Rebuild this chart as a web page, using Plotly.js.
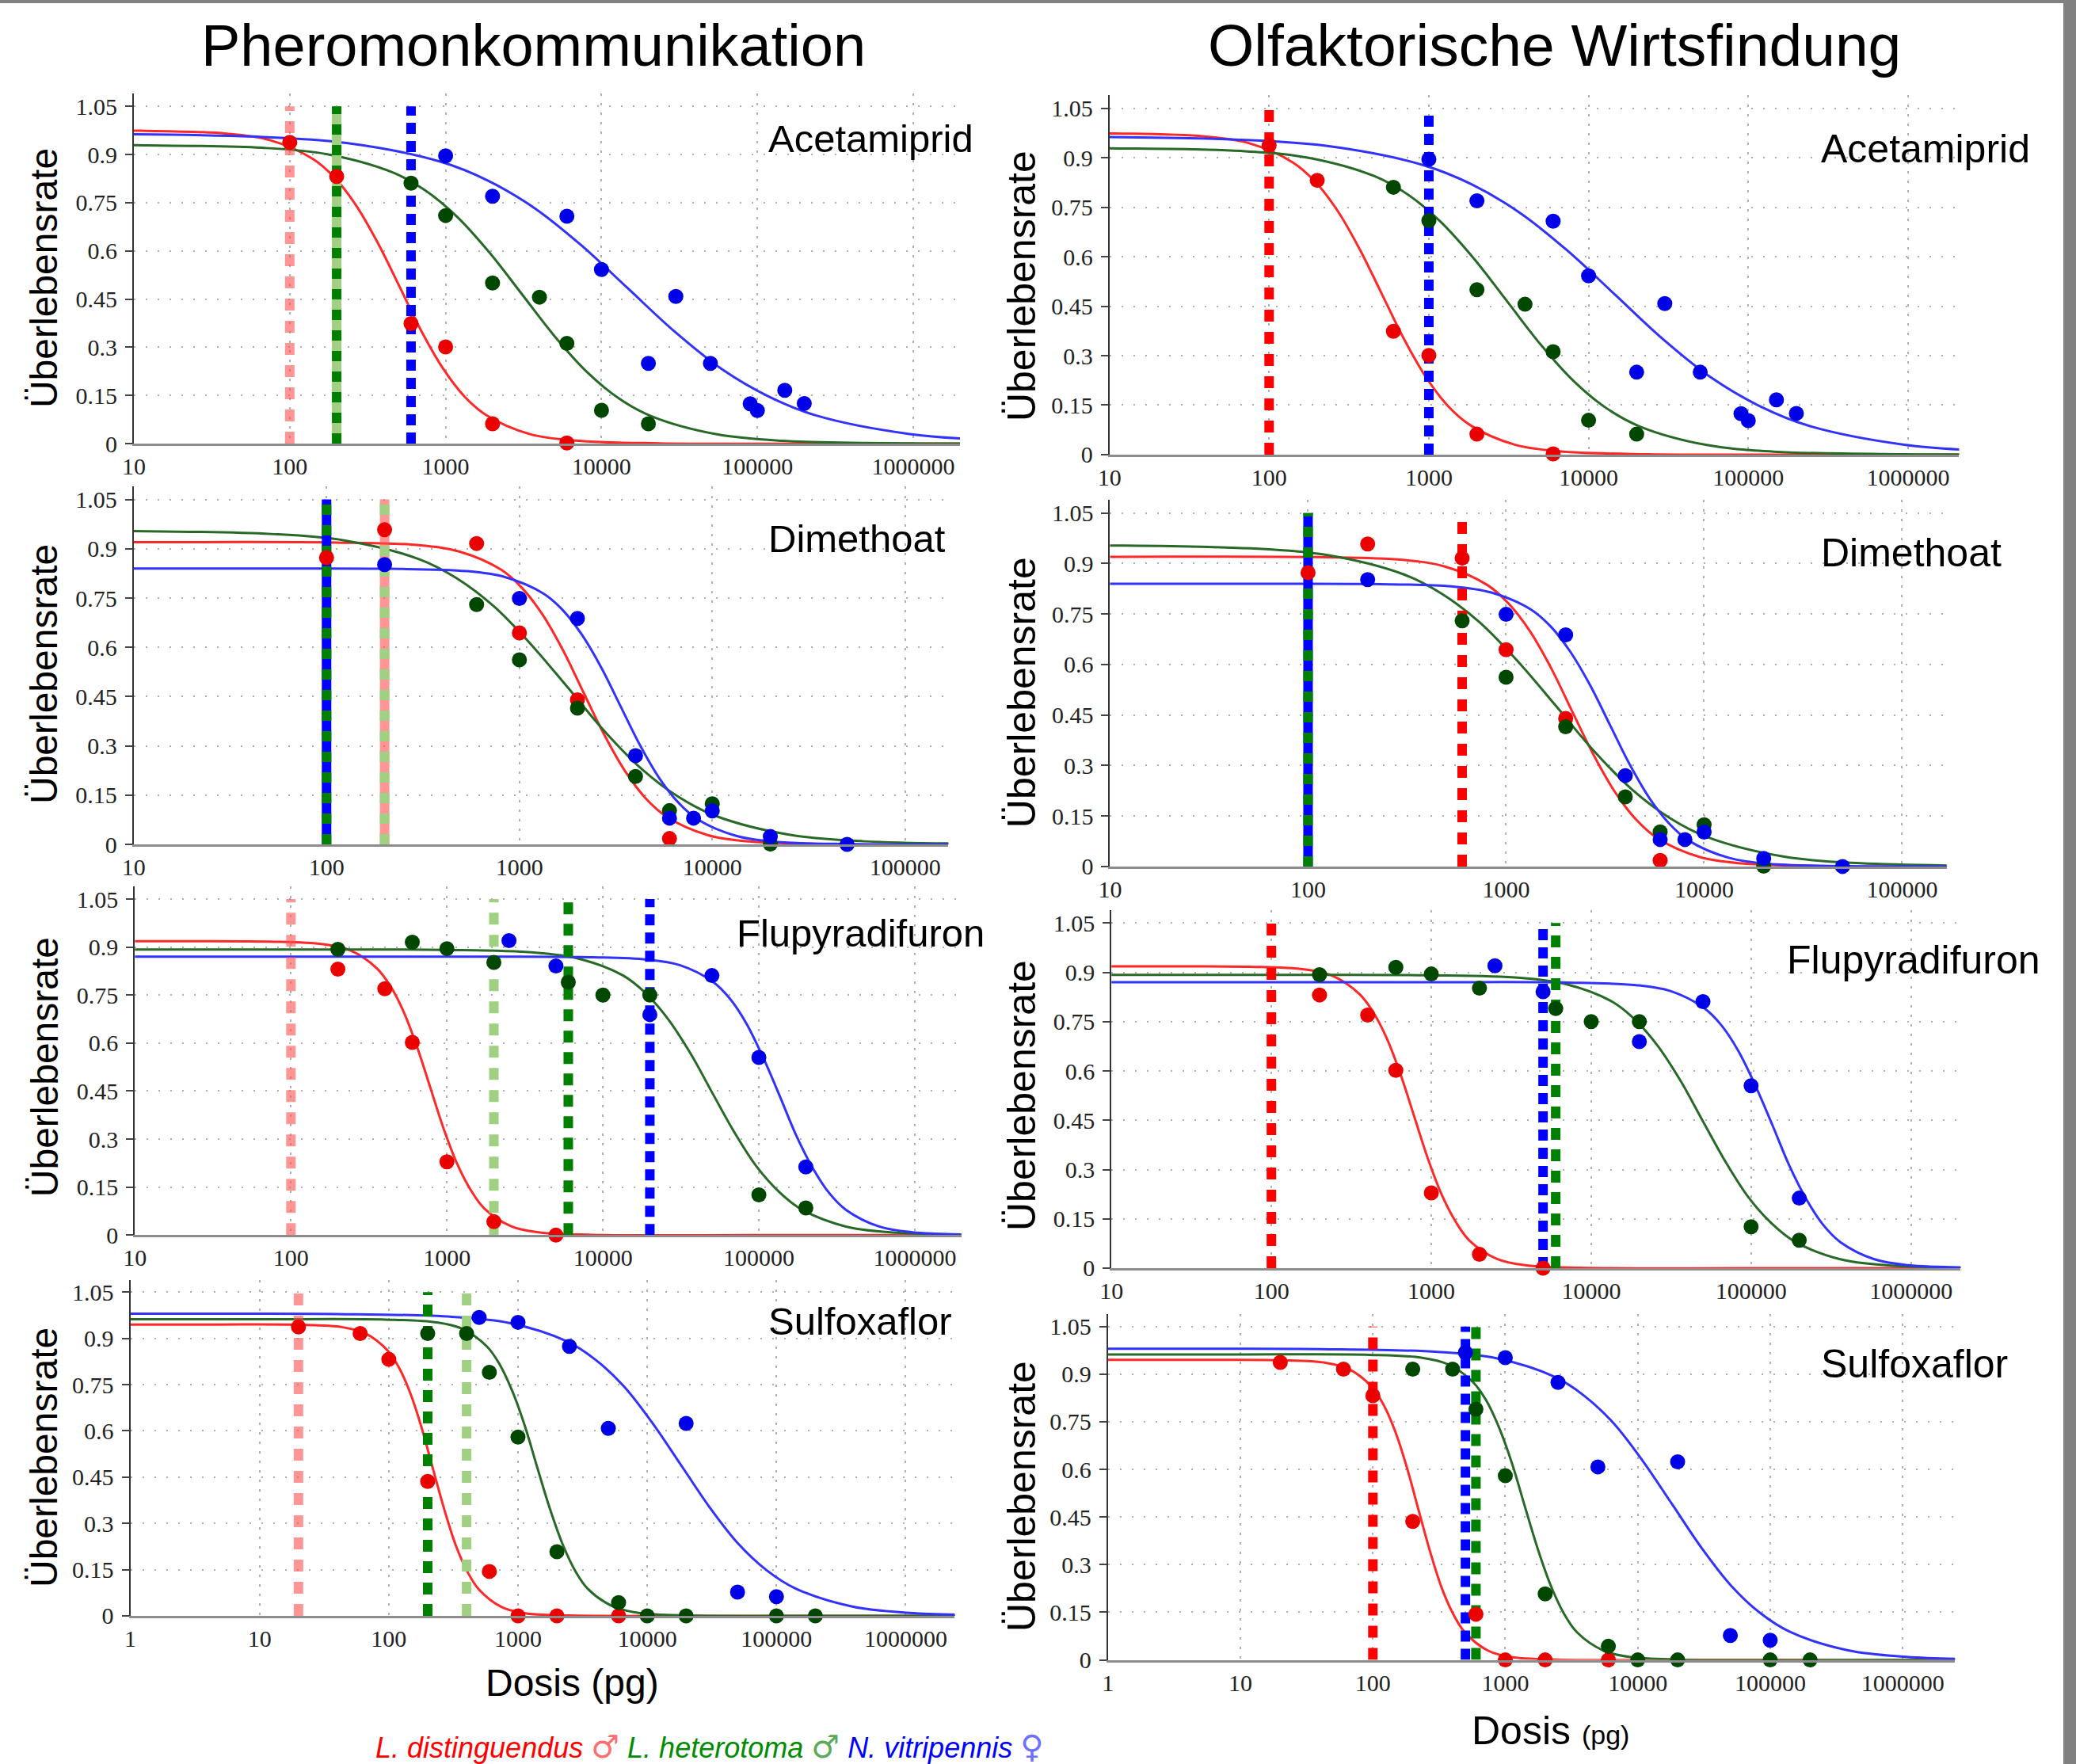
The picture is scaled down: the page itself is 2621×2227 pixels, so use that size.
<!DOCTYPE html>
<html><head><meta charset="utf-8">
<script src="https://cdn.plot.ly/plotly-3.0.1.min.js"></script>
<style>html,body{margin:0;padding:0;background:#fff}</style>
</head><body><div id="chart" style="width:2621px;height:2227px"></div>
<script>
// ---------------- DATA ----------------
const doseTickVals = [1, 10, 100, 1000, 10000, 100000, 1000000];
const doseTickText = ['1', '10', '100', '1000', '10000', '100000', '1000000'];
const rateTickVals = [0, 0.15, 0.3, 0.45, 0.6, 0.75, 0.9, 1.05];
const rateTickText = ['0', '0.15', '0.3', '0.45', '0.6', '0.75', '0.9', '1.05'];

const columnTitles = ['Pheromonkommunikation', 'Olfaktorische Wirtsfindung'];
const insecticides = ['Acetamiprid', 'Dimethoat', 'Flupyradifuron', 'Sulfoxaflor'];
const species = ['L. distinguendus', 'L. heterotoma', 'N. vitripennis'];
const speciesSex = ['\u2642', '\u2642', '\u2640'];
const yTitle = '\u00dcberlebensrate';
const xTitle = 'Dosis';
const xUnit = '(pg)';

// Observed survival (dose in pg)
const acetDistDose = [100, 200, 600, 1000, 2000, 6000];
const acetDistRate = [0.938, 0.832, 0.374, 0.301, 0.062, 0.002];
const acetHetDose = [600, 1000, 2000, 4000, 6000, 10000, 20000];
const acetHetRate = [0.811, 0.710, 0.500, 0.456, 0.312, 0.104, 0.062];
const acetVitDose = [1000, 2000, 6000, 10000, 20000, 30000, 50000, 90000, 100000, 150000, 200000];
const acetVitRate = [0.896, 0.770, 0.708, 0.542, 0.250, 0.458, 0.250, 0.124, 0.103, 0.166, 0.125];

const dimeDistDose = [100, 200, 600, 1000, 2000, 6000];
const dimeDistRate = [0.873, 0.958, 0.916, 0.644, 0.440, 0.018];
const dimeHetDose = [600, 1000, 2000, 4000, 6000, 10000, 20000];
const dimeHetRate = [0.730, 0.562, 0.415, 0.207, 0.103, 0.124, 0.001];
const dimeVitDose = [200, 1000, 2000, 4000, 6000, 8000, 10000, 20000, 50000];
const dimeVitRate = [0.852, 0.749, 0.688, 0.270, 0.080, 0.080, 0.102, 0.024, 0.0];

const flupDistDose = [200, 400, 600, 1000, 2000, 5000];
const flupDistRate = [0.831, 0.770, 0.602, 0.229, 0.042, 0.0];
const flupHetDose = [200, 600, 1000, 2000, 6000, 10000, 20000, 100000, 200000];
const flupHetRate = [0.893, 0.915, 0.895, 0.852, 0.790, 0.750, 0.750, 0.126, 0.085];
const flupVitDose = [2500, 5000, 20000, 50000, 100000, 200000];
const flupVitRate = [0.920, 0.841, 0.689, 0.811, 0.555, 0.213];

const sulfDistDose = [20, 60, 100, 200, 600, 1000, 2000, 6000];
const sulfDistRate = [0.937, 0.916, 0.832, 0.436, 0.144, 0, 0, 0];
const sulfHetDose = [200, 400, 600, 1000, 2000, 6000, 10000, 20000, 100000, 200000];
const sulfHetRate = [0.916, 0.916, 0.790, 0.580, 0.208, 0.043, 0, 0, 0, 0];
const sulfVitDose = [500, 1000, 2500, 5000, 20000, 50000, 100000];
const sulfVitRate = [0.968, 0.952, 0.874, 0.608, 0.624, 0.077, 0.062];

// Fitted dose-response curves
const acetDistFitDose = [1, 10.9, 39.3, 74.5, 141, 194, 267, 368, 507, 698, 962, 1320, 1820, 3450, 6550, 23500, 300000, 3000000];
const acetDistFitRate = [0.975, 0.974, 0.965, 0.945, 0.886, 0.828, 0.741, 0.624, 0.488, 0.351, 0.234, 0.147, 0.089, 0.030, 0.010, 0.001, 0, 0];
const acetHetFitDose = [1, 9.8, 66.5, 174, 454, 733, 1180, 1910, 3090, 4990, 8070, 13000, 21000, 55000, 144000, 977000, 3000000];
const acetHetFitRate = [0.930, 0.929, 0.921, 0.901, 0.845, 0.790, 0.707, 0.595, 0.465, 0.335, 0.223, 0.140, 0.085, 0.029, 0.009, 0.001, 0.0003];
const acetVitFitDose = [1, 3.6, 57.5, 231, 923, 1850, 3700, 7400, 14800, 29600, 59200, 119000, 237000, 949000, 3000000];
const acetVitFitRate = [0.966, 0.965, 0.956, 0.936, 0.878, 0.820, 0.734, 0.618, 0.483, 0.348, 0.232, 0.146, 0.088, 0.030, 0.012];

const dimeDistFitDose = [1, 10, 111, 300, 491, 805, 1030, 1320, 1690, 2160, 2770, 3550, 4540, 5810, 9530, 15600, 41900, 300000, 3000000];
const dimeDistFitRate = [0.920, 0.920, 0.919, 0.911, 0.891, 0.836, 0.781, 0.699, 0.589, 0.460, 0.331, 0.221, 0.139, 0.084, 0.028, 0.009, 0.001, 0, 0];
const dimeHetFitDose = [1, 8.75, 51.5, 125, 303, 471, 733, 1140, 1780, 2770, 4320, 6710, 10400, 25400, 61400, 361000, 3000000];
const dimeHetFitRate = [0.955, 0.954, 0.945, 0.925, 0.868, 0.811, 0.726, 0.611, 0.478, 0.344, 0.229, 0.144, 0.087, 0.029, 0.0095, 0.001, 0];
const dimeVitFitDose = [1, 10, 60, 211, 531, 841, 1330, 1680, 2110, 2660, 3350, 4220, 5310, 6680, 8410, 13300, 21100, 53100, 300000, 3000000];
const dimeVitFitRate = [0.840, 0.840, 0.840, 0.839, 0.832, 0.814, 0.764, 0.713, 0.638, 0.538, 0.420, 0.302, 0.202, 0.127, 0.076, 0.026, 0.008, 0.001, 0, 0];

const flupDistFitDose = [1, 10, 72.6, 160, 239, 355, 433, 528, 644, 785, 957, 1170, 1430, 1740, 2580, 3850, 8490, 100000, 3000000];
const flupDistFitRate = [0.918, 0.918, 0.917, 0.909, 0.890, 0.834, 0.779, 0.698, 0.588, 0.459, 0.330, 0.220, 0.139, 0.083, 0.028, 0.009, 0.001, 0, 0];
const flupHetFitDose = [1, 10, 100, 968, 3610, 6970, 13500, 18700, 25900, 36100, 50100, 69700, 96800, 135000, 187000, 361000, 697000, 2590000, 3000000];
const flupHetFitRate = [0.892, 0.892, 0.892, 0.891, 0.883, 0.864, 0.811, 0.757, 0.678, 0.571, 0.446, 0.321, 0.214, 0.135, 0.081, 0.027, 0.009, 0.001, 0.0008];
const flupVitFitDose = [1, 10, 100, 1000, 7180, 19100, 31300, 50900, 65200, 83200, 106000, 136000, 173000, 222000, 283000, 362000, 590000, 964000, 2570000, 3000000];
const flupVitFitRate = [0.870, 0.870, 0.870, 0.870, 0.869, 0.861, 0.843, 0.791, 0.739, 0.661, 0.557, 0.435, 0.313, 0.209, 0.131, 0.079, 0.027, 0.009, 0.001, 0.0007];

const sulfDistFitDose = [1, 4.5, 19.6, 44, 65.9, 98.6, 121, 148, 181, 221, 271, 331, 406, 497, 743, 1110, 2500, 30000, 3000000];
const sulfDistFitRate = [0.945, 0.945, 0.944, 0.936, 0.916, 0.859, 0.802, 0.718, 0.605, 0.473, 0.340, 0.227, 0.143, 0.086, 0.029, 0.009, 0.001, 0, 0];
const sulfHetFitDose = [1, 10, 94.2, 232, 365, 573, 718, 899, 1130, 1410, 1770, 2220, 2780, 3480, 5470, 8590, 21200, 300000, 3000000];
const sulfHetFitRate = [0.962, 0.962, 0.961, 0.952, 0.932, 0.874, 0.817, 0.731, 0.616, 0.481, 0.346, 0.231, 0.145, 0.087, 0.030, 0.0095, 0.001, 0, 0];
const sulfVitFitDose = [1, 5, 40.3, 309, 857, 2370, 3940, 6580, 10900, 18200, 30300, 50400, 83900, 140000, 387000, 1070000, 3000000];
const sulfVitFitRate = [0.980, 0.980, 0.979, 0.970, 0.950, 0.891, 0.832, 0.745, 0.627, 0.490, 0.353, 0.235, 0.148, 0.089, 0.030, 0.0097, 0.003];

// Threshold doses (vertical dashed markers) and which species they belong to
const acetPheroLineDose = [100, 200, 600];
const acetPheroLineKind = ['distLight', 'hetMixed', 'vit'];
const acetHostLineDose = [100, 1000];
const acetHostLineKind = ['dist', 'vit'];
const dimePheroLineDose = [100, 200];
const dimePheroLineKind = ['vitHet', 'distHetLight'];
const dimeHostLineDose = [100, 600];
const dimeHostLineKind = ['vitHet', 'dist'];
const flupPheroLineDose = [100, 2000, 6000, 20000];
const flupPheroLineKind = ['distLight', 'hetLight', 'het', 'vit'];
const flupHostLineDose = [100, 5000, 6000];
const flupHostLineKind = ['dist', 'vit', 'het'];
const sulfPheroLineDose = [20, 200, 400];
const sulfPheroLineKind = ['distLight', 'het', 'hetLight'];
const sulfHostLineDose = [100, 500, 600];
const sulfHostLineKind = ['dist', 'vit', 'het'];

// ---------------- ASSEMBLY ----------------
const obs = [
  [[acetDistDose, acetDistRate], [acetHetDose, acetHetRate], [acetVitDose, acetVitRate]],
  [[dimeDistDose, dimeDistRate], [dimeHetDose, dimeHetRate], [dimeVitDose, dimeVitRate]],
  [[flupDistDose, flupDistRate], [flupHetDose, flupHetRate], [flupVitDose, flupVitRate]],
  [[sulfDistDose, sulfDistRate], [sulfHetDose, sulfHetRate], [sulfVitDose, sulfVitRate]]
];
const fits = [
  [[acetDistFitDose, acetDistFitRate], [acetHetFitDose, acetHetFitRate], [acetVitFitDose, acetVitFitRate]],
  [[dimeDistFitDose, dimeDistFitRate], [dimeHetFitDose, dimeHetFitRate], [dimeVitFitDose, dimeVitFitRate]],
  [[flupDistFitDose, flupDistFitRate], [flupHetFitDose, flupHetFitRate], [flupVitFitDose, flupVitFitRate]],
  [[sulfDistFitDose, sulfDistFitRate], [sulfHetFitDose, sulfHetFitRate], [sulfVitFitDose, sulfVitFitRate]]
];
const lines = [
  [[acetPheroLineDose, acetPheroLineKind], [acetHostLineDose, acetHostLineKind]],
  [[dimePheroLineDose, dimePheroLineKind], [dimeHostLineDose, dimeHostLineKind]],
  [[flupPheroLineDose, flupPheroLineKind], [flupHostLineDose, flupHostLineKind]],
  [[sulfPheroLineDose, sulfPheroLineKind], [sulfHostLineDose, sulfHostLineKind]]
];

// styling
const curveColors = ['rgb(255,40,40)', 'rgb(40,105,40)', 'rgb(50,50,255)'];
const markerColors = ['rgb(235,0,0)', 'rgb(0,72,0)', 'rgb(0,0,232)'];
const PINK = 'rgba(255,80,80,0.6)', RED = 'rgb(255,0,0)', LGREEN = 'rgb(160,208,130)',
      DGREEN = 'rgb(0,128,0)', BLUE = 'rgb(0,0,255)';
const lineStyles = {
  distLight: [{c: PINK, dash: '15px,13px'}],
  dist: [{c: RED, dash: '15px,13px'}],
  hetLight: [{c: LGREEN, dash: '15px,13px'}],
  het: [{c: DGREEN, dash: '15px,12px'}],
  vit: [{c: BLUE, dash: '14px,9px'}],
  hetMixed: [{c: LGREEN, dash: 'solid'}, {c: DGREEN, dash: '13px,13px'}],
  vitHet: [{c: BLUE, dash: 'solid'}, {c: DGREEN, dash: '13px,13px'}],
  distHetLight: [{c: PINK, dash: 'solid'}, {c: LGREEN, dash: '13px,13px'}]
};
const LINE_TOP = 1.05;

const panelDomX = [[0.0645,0.4624],[0.0644,0.4568],[0.0650,0.4630],[0.0628,0.4599],
                   [0.5344,0.9437],[0.5347,0.9377],[0.5354,0.9444],[0.5337,0.9417]];
const panelDomY = [[0.7485,0.9470],[0.5213,0.7243],[0.2998,0.4976],[0.0840,0.2745],
                   [0.7423,0.9460],[0.5088,0.7168],[0.2811,0.4842],[0.0590,0.2552]];
const panelXRange = [[1,6.30],[1,5.224],[1,6.297],[0,6.38],[1,6.32],[1,5.225],[1,6.31],[0,6.395]];
const labelPos = [[0.3693,0.9214],[0.3693,0.6947],[0.3541,0.4710],[0.3693,0.2510],
                  [0.8764,0.9156],[0.8764,0.6866],[0.8600,0.4558],[0.8764,0.2268]];
const yTitlePos = [[0.0214,0.8424],[0.0214,0.6179],[0.0214,0.3951],[0.0214,0.1738],
                   [0.4922,0.8379],[0.4922,0.6075],[0.4922,0.3790],[0.4922,0.1518]];

const SANS = 'Liberation Sans, Arial, Helvetica, sans-serif';
const SERIF = 'Liberation Serif, Times New Roman, serif';

const traces = [];
const layout = {
  width: 2621, height: 2227,
  margin: {l: 0, r: 0, t: 0, b: 0},
  paper_bgcolor: '#fff', plot_bgcolor: '#fff',
  showlegend: false, hovermode: false,
  annotations: [], shapes: []
};

for (let p = 0; p < 8; p++) {
  const ins = p % 4, col = p < 4 ? 0 : 1;
  const n = p === 0 ? '' : String(p + 1);
  const xa = 'x' + n, ya = 'y' + n;
  // curves
  for (let s = 0; s < 3; s++) {
    traces.push({type: 'scatter', mode: 'lines', x: fits[ins][s][0], y: fits[ins][s][1],
      xaxis: xa, yaxis: ya, line: {color: curveColors[s], width: 3, shape: 'spline', smoothing: 1}});
  }
  // threshold lines
  const [ld, lk] = lines[ins][col];
  for (let i = 0; i < ld.length; i++) {
    for (const st of lineStyles[lk[i]]) {
      traces.push({type: 'scatter', mode: 'lines', x: [ld[i], ld[i]], y: [0, LINE_TOP],
        xaxis: xa, yaxis: ya, line: {color: st.c, width: 12, dash: st.dash}});
    }
  }
  // observations
  for (let s = 0; s < 3; s++) {
    traces.push({type: 'scatter', mode: 'markers', x: obs[ins][s][0], y: obs[ins][s][1],
      xaxis: xa, yaxis: ya, cliponaxis: false,
      marker: {color: markerColors[s], size: 19, line: {width: 0}}});
  }
  layout['xaxis' + n] = {
    type: 'log', domain: panelDomX[p], range: panelXRange[p], anchor: ya,
    tickmode: 'array', tickvals: doseTickVals, ticktext: doseTickText,
    tickfont: {family: SERIF, size: 30, color: '#222'}, ticks: '', ticklabelstandoff: 0,
    showgrid: true, gridcolor: 'rgb(175,175,175)', gridwidth: 2, griddash: '3px,9px',
    showline: true, linecolor: 'rgb(140,140,140)', linewidth: 3, zeroline: false, fixedrange: true
  };
  layout['yaxis' + n] = {
    domain: panelDomY[p], range: [0, 1.09], anchor: xa,
    tickmode: 'array', tickvals: rateTickVals, ticktext: rateTickText,
    tickfont: {family: SERIF, size: 30, color: '#222'}, ticks: 'outside', ticklen: 9, tickwidth: 2, tickcolor: '#444',
    ticklabelstandoff: 4,
    showgrid: true, gridcolor: 'rgb(175,175,175)', gridwidth: 2, griddash: '2px,13px',
    showline: true, linecolor: '#333', linewidth: 2, zeroline: false, fixedrange: true
  };
  layout.annotations.push({xref: 'paper', yref: 'paper', x: labelPos[p][0], y: labelPos[p][1],
    xanchor: 'left', yanchor: 'middle', showarrow: false, text: insecticides[ins],
    font: {family: SANS, size: col === 0 ? 49 : 50, color: '#000'}});
  layout.annotations.push({xref: 'paper', yref: 'paper', x: yTitlePos[p][0], y: yTitlePos[p][1],
    xanchor: 'center', yanchor: 'middle', showarrow: false, text: yTitle, textangle: -90,
    font: {family: SANS, size: col === 0 ? 48 : 50, color: '#000'}});
}

// column titles
layout.annotations.push({xref: 'paper', yref: 'paper', x: 0.2568, y: 0.9744, xanchor: 'center', yanchor: 'middle',
  showarrow: false, text: columnTitles[0], font: {family: SANS, size: 74, color: '#000'}});
layout.annotations.push({xref: 'paper', yref: 'paper', x: 0.7489, y: 0.9744, xanchor: 'center', yanchor: 'middle',
  showarrow: false, text: columnTitles[1], font: {family: SANS, size: 75, color: '#000'}});
// x titles
layout.annotations.push({xref: 'paper', yref: 'paper', x: 0.2755, y: 0.0462, xanchor: 'center', yanchor: 'middle',
  showarrow: false, text: xTitle + ' ' + xUnit, font: {family: SANS, size: 48, color: '#000'}});
layout.annotations.push({xref: 'paper', yref: 'paper', x: 0.7470, y: 0.0189, xanchor: 'center', yanchor: 'middle',
  showarrow: false, text: xTitle + ' <span style="font-size:34px">' + xUnit + '</span>', font: {family: SANS, size: 50, color: '#000'}});
// species legend
const legTextColors = ['rgb(255,0,0)', 'rgb(0,140,0)', 'rgb(0,0,255)'];
const legSymColors = ['rgb(255,110,110)', 'rgb(90,170,90)', 'rgb(110,110,255)'];
let leg = '';
for (let s = 0; s < 3; s++) {
  leg += '<span style="color:' + legTextColors[s] + '"><i>' + species[s] + '</i></span> ' +
         '<span style="color:' + legSymColors[s] + ';font-family:DejaVu Sans;font-size:40px">' + speciesSex[s] + '</span>' + (s < 2 ? ' ' : '');
}
layout.annotations.push({xref: 'paper', yref: 'paper', x: 0.3419, y: 0.0099, xanchor: 'center', yanchor: 'middle',
  showarrow: false, text: leg, font: {family: SANS, size: 36, color: '#000'}});

// frame border (gray bars at top and right)
layout.shapes.push({type: 'rect', xref: 'paper', yref: 'paper', x0: 0, x1: 1, y0: 0.9982, y1: 1.001,
  line: {width: 0}, fillcolor: 'rgb(128,128,128)', layer: 'above'});
layout.shapes.push({type: 'rect', xref: 'paper', yref: 'paper', x0: 0.9939, x1: 1.001, y0: 0, y1: 1,
  line: {width: 0}, fillcolor: 'rgb(128,128,128)', layer: 'above'});

Plotly.newPlot('chart', traces, layout, {staticPlot: true, responsive: false});
</script>
</body></html>
